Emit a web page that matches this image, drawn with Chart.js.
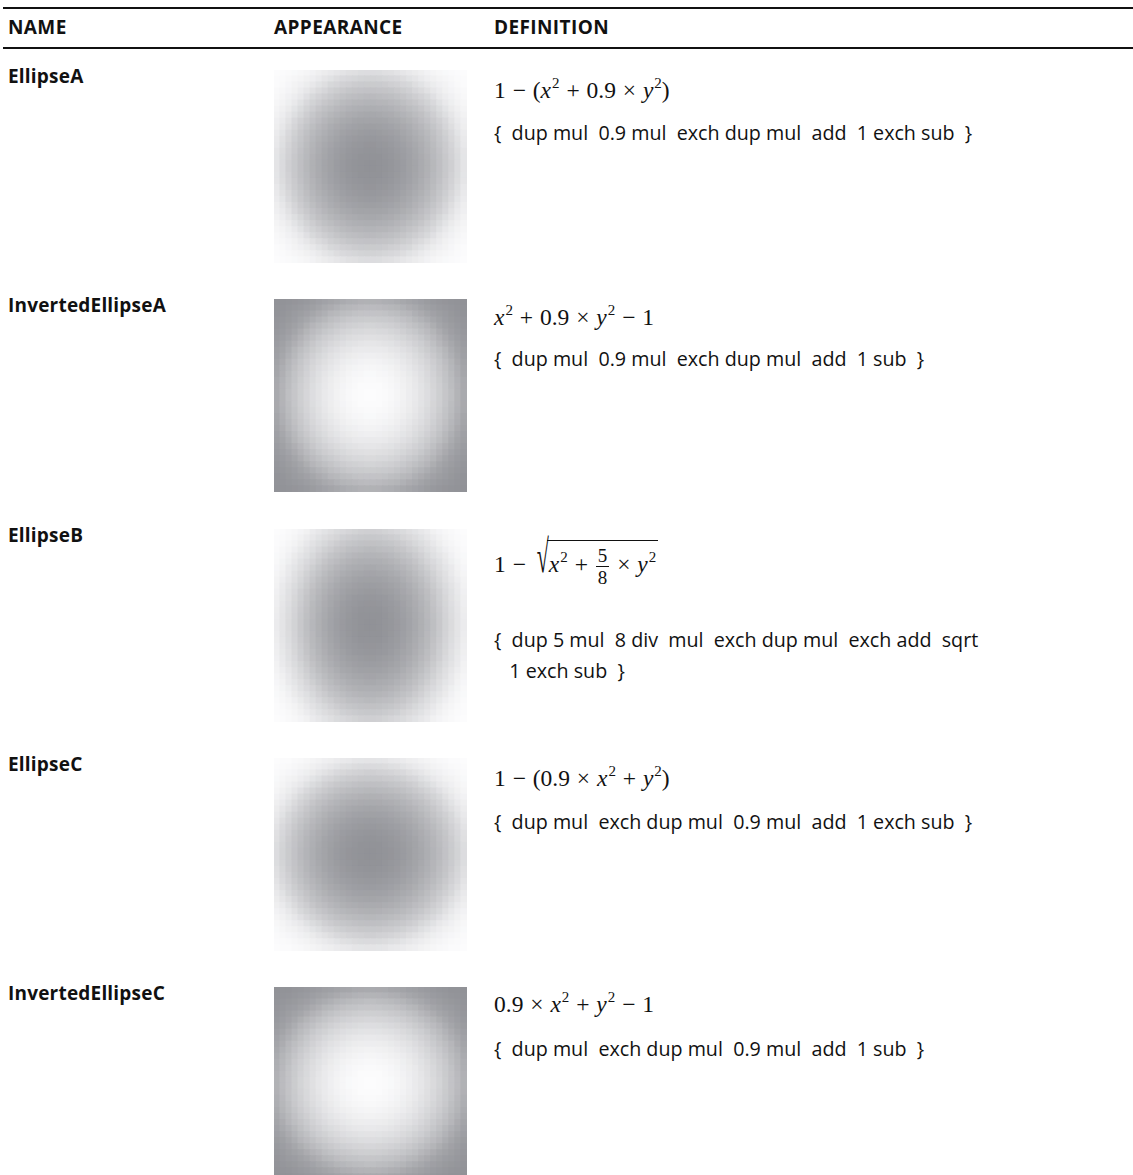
<!DOCTYPE html>
<html>
<head>
<meta charset="utf-8">
<script src="https://cdn.jsdelivr.net/npm/chart.js@4.4.1/dist/chart.umd.min.js"></script>
<style>
  html, body { margin:0; padding:0; background:#fff; }
  #page { position:relative; width:1133px; height:1175px; overflow:hidden; color:#111; }
  .rule { position:absolute; left:3px; right:0; height:2px; background:#111; }
  .hdr { position:absolute; top:15px; font-family:'Open Sans', sans-serif; font-weight:700; font-size:19px; letter-spacing:0.4px; line-height:24px; }
  .name { position:absolute; left:8px; font-family:'Open Sans', sans-serif; font-weight:700; font-size:19px; letter-spacing:0.2px; line-height:24px; }
  .pic { position:absolute; left:274px; width:193px; height:193px; }
  .formula { position:absolute; left:494px; font-family:'Liberation Serif', serif; font-size:23.5px; word-spacing:1px; line-height:28px; white-space:nowrap; }
  .formula i { font-style:italic; }
  .formula sup { font-size:15px; vertical-align:10px; line-height:0; margin-left:1px; }
  .code { position:absolute; left:494px; font-family:'Open Sans', sans-serif; font-size:19.7px; line-height:31px; white-space:pre; }
  .rad { display:inline-block; transform:scaleY(2.1); transform-origin:50% 75%; margin-left:4px; font-size:22px; }
  .radicand { display:inline-block; border-top:1px solid #111; padding:4px 2px 0 2px; margin-left:-2px; }
  .frac { display:inline-flex; flex-direction:column; vertical-align:middle; font-size:19px; line-height:21px; text-align:center; margin:0 1px; }
  .frac span:first-child { border-bottom:1.5px solid #111; padding:0 2px; }
</style>
</head>
<body>
<div id="page">
  <div class="rule" style="top:7px"></div>
  <div class="hdr" style="left:8px">NAME</div>
  <div class="hdr" style="left:274px">APPEARANCE</div>
  <div class="hdr" style="left:494px">DEFINITION</div>
  <div class="rule" style="top:47px"></div>
</div>
<script>
// table rows
const spotNames = ['EllipseA', 'InvertedEllipseA', 'EllipseB', 'EllipseC', 'InvertedEllipseC'];
const formulas = [
  '1 − (<i>x</i><sup>2</sup> + 0.9 × <i>y</i><sup>2</sup>)',
  '<i>x</i><sup>2</sup> + 0.9 × <i>y</i><sup>2</sup> − 1',
  '1 − <span class="rad">√</span><span class="radicand"><i>x</i><sup>2</sup> + <span class="frac"><span>5</span><span>8</span></span> × <i>y</i><sup>2</sup></span>',
  '1 − (0.9 × <i>x</i><sup>2</sup> + <i>y</i><sup>2</sup>)',
  '0.9 × <i>x</i><sup>2</sup> + <i>y</i><sup>2</sup> − 1'
];
const codeLines = [
  ['{  dup mul  0.9 mul  exch dup mul  add  1 exch sub  }'],
  ['{  dup mul  0.9 mul  exch dup mul  add  1 sub  }'],
  ['{  dup 5 mul  8 div  mul  exch dup mul  exch add  sqrt', '   1 exch sub  }'],
  ['{  dup mul  exch dup mul  0.9 mul  add  1 exch sub  }'],
  ['{  dup mul  exch dup mul  0.9 mul  add  1 sub  }']
];

// spot function terms, as written in the DEFINITION column
const xCoef = [1, 1, 1, 0.9, 0.9];
const yCoef = [0.9, 0.9, 0.625, 1, 1];
const invert = [false, true, false, false, true];
const useSqrt = [false, false, true, false, false];

const GRID = 32;                     // cells per side in each appearance swatch
const LIGHT = [252, 252, 253];       // lightest cell
const DARK = [145, 146, 151];        // darkest cell

const rowTop = [70, 299, 529, 758, 987];
const formulaTop = [6, 4, 11, 6, 3];
const codeTop = [47, 44, 95, 48, 46];

function spotValue(k, x, y){
  let q = xCoef[k]*x*x + yCoef[k]*y*y;
  if(useSqrt[k]) q = Math.sqrt(q);
  return invert[k] ? q - 1 : 1 - q;
}

// threshold array: each cell's rank among all cells of the swatch
function cellShades(k){
  const vals = [];
  for(let r = 0; r < GRID; r++){
    for(let c = 0; c < GRID; c++){
      const x = -1 + (c + 0.5) * 2 / GRID;
      const y = -1 + (r + 0.5) * 2 / GRID;
      vals.push(spotValue(k, x, y));
    }
  }
  const sorted = vals.slice().sort((a,b) => a - b);
  const n = vals.length;
  return vals.map(v => {
    let lo = 0, hi = n;
    while(lo < hi){ const m = (lo+hi) >> 1; if(sorted[m] < v - 1e-12) lo = m + 1; else hi = m; }
    let lo2 = lo;
    while(lo2 < n && sorted[lo2] <= v + 1e-12) lo2++;
    return ((lo + lo2 - 1) / 2) / (n - 1);
  });
}

function shadeColor(t){
  const c = LIGHT.map((l,i) => Math.round(l + (DARK[i] - l) * t));
  return `rgb(${c[0]},${c[1]},${c[2]})`;
}

const page = document.getElementById('page');

spotNames.forEach((name, k) => {
  const T = rowTop[k];

  const nm = document.createElement('div');
  nm.className = 'name';
  nm.style.top = (T - 6) + 'px';
  nm.textContent = name;
  page.appendChild(nm);

  const fm = document.createElement('div');
  fm.className = 'formula';
  fm.style.top = (T + formulaTop[k]) + 'px';
  fm.innerHTML = formulas[k];
  page.appendChild(fm);

  const cd = document.createElement('div');
  cd.className = 'code';
  cd.style.top = (T + codeTop[k]) + 'px';
  cd.textContent = codeLines[k].join('\n');
  page.appendChild(cd);

  const box = document.createElement('div');
  box.className = 'pic';
  box.style.top = T + 'px';
  const cv = document.createElement('canvas');
  cv.width = 193; cv.height = 193;
  box.appendChild(cv);
  page.appendChild(box);

  const shades = cellShades(k);
  const cols = Array.from({length: GRID}, (_, i) => i);
  // one stacked dataset per grid row, bottom row first
  const datasets = [];
  for(let r = 0; r < GRID; r++){
    datasets.push({
      data: cols.map(() => 1),
      backgroundColor: cols.map(c => shadeColor(shades[r*GRID + c])),
      borderWidth: 0,
      barPercentage: 1,
      categoryPercentage: 1,
      inflateAmount: 0.6
    });
  }

  new Chart(cv, {
    type: 'bar',
    data: { labels: cols, datasets },
    options: {
      responsive: false,
      animation: false,
      events: [],
      layout: { padding: 0 },
      plugins: { legend: { display:false }, tooltip: { enabled:false } },
      scales: {
        x: { stacked: true, display: false },
        y: { stacked: true, display: false, min: 0, max: GRID }
      }
    }
  });
});
</script>
</body>
</html>
